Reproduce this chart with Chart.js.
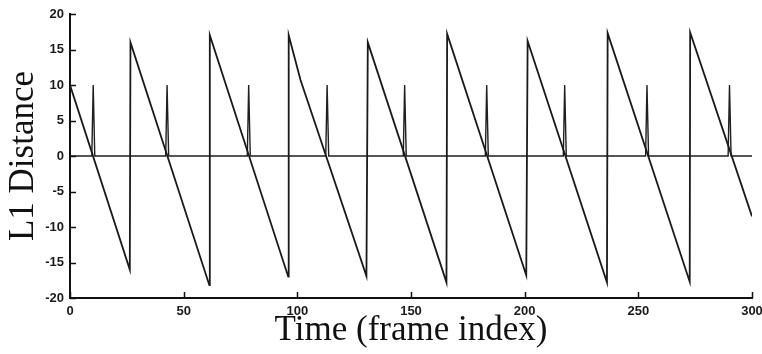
<!DOCTYPE html>
<html>
<head>
<meta charset="utf-8">
<script src="https://cdn.jsdelivr.net/npm/chart.js@4.4.0/dist/chart.umd.min.js"></script>
<style>
  html, body { margin: 0; padding: 0; background: #fff; }
</style>
</head>
<body>
<canvas id="chart" width="762" height="354"></canvas>
<script>
// sawtooth L1 distance (vertices)
const sawX = [0, 26.3, 26.6, 61.3, 61.5, 96.0, 96.2, 101.4, 130.4, 131.0, 165.6, 165.9, 200.7, 201.3, 236.2, 236.5, 272.6, 272.8, 300];
const sawY = [10, -16, 16, -18.2, 17, -17, 17, 10.7, -16.9, 16, -17.8, 17.2, -16.8, 16.2, -17.8, 17.3, -17.7, 17.4, -8.5];

// zero line with spikes at the zero crossings
const baseX = [0,
  9.6, 10.2, 10.9,
  42.1, 42.7, 43.4,
  78.0, 78.6, 79.3,
  112.5, 113.1, 113.8,
  146.6, 147.2, 147.9,
  182.7, 183.3, 184.0,
  217.0, 217.6, 218.3,
  253.2, 253.8, 254.5,
  289.5, 290.1, 290.8,
  300];
const baseY = [0,
  0, 10, 0,
  0, 10, 0,
  0, 10, 0,
  0, 10, 0,
  0, 10, 0,
  0, 10, 0,
  0, 10, 0,
  0, 10, 0,
  0, 10, 0,
  0];

const xTicks = [0, 50, 100, 150, 200, 250, 300];
const yTicks = [-20, -15, -10, -5, 0, 5, 10, 15, 20];

const toPoints = (xs, ys) => xs.map((x, i) => ({x: x, y: ys[i]}));

// tick marks drawn inward from the axes
const innerTicks = {
    id: "innerTicks",
    afterDraw(chart) {
        const {ctx, chartArea, scales} = chart;
        ctx.save();
        ctx.strokeStyle = "#111";
        ctx.lineWidth = 1.5;
        ctx.beginPath();
        xTicks.forEach(v => {
            const px = Math.round(scales.x.getPixelForValue(v)) + 0.5;
            ctx.moveTo(px, chartArea.bottom);
            ctx.lineTo(px, chartArea.bottom - 6);
        });
        yTicks.forEach(v => {
            const py = Math.round(scales.y.getPixelForValue(v)) + 0.5;
            ctx.moveTo(chartArea.left, py);
            ctx.lineTo(chartArea.left + 6, py);
        });
        ctx.stroke();
        ctx.restore();
    }
};

const tickFont = {family: "'Liberation Sans', Arial, sans-serif", size: 13, weight: "bold"};
const titleFont = {family: "'Liberation Serif', 'Times New Roman', serif", size: 35};

const chart = new Chart(document.getElementById("chart"), {
    type: "line",
    data: {
        datasets: [
            {
                label: "L1 distance",
                data: toPoints(sawX, sawY),
                borderColor: "#1a1a1a",
                borderWidth: 1.8,
                pointRadius: 0,
                tension: 0
            }, {
                label: "zero",
                data: toPoints(baseX, baseY),
                borderColor: "#1f1f1f",
                borderWidth: 1.4,
                pointRadius: 0,
                tension: 0
            }
        ]
    },
    options: {
        responsive: false,
        animation: false,
        devicePixelRatio: 1,
        layout: {padding: {left: 0, top: 14, right: 10, bottom: 0}},
        plugins: {
            legend: {display: false},
            tooltip: {enabled: false}
        },
        scales: {
            x: {
                type: "linear",
                min: 0,
                max: 300,
                afterBuildTicks: (s) => { s.ticks = xTicks.map(v => ({value: v})); },
                afterFit: (s) => { s.height = 56; s.paddingLeft = 0; s.paddingRight = 0; },
                ticks: {font: tickFont, color: "#1a1a1a", padding: 6, maxRotation: 0, autoSkip: false},
                grid: {display: false, drawTicks: false},
                border: {display: true, color: "#111", width: 2},
                title: {display: true, text: "Time (frame index)", font: titleFont, color: "#111", padding: {top: 0, bottom: 2}}
            },
            y: {
                type: "linear",
                min: -20,
                max: 20,
                afterBuildTicks: (s) => { s.ticks = yTicks.map(v => ({value: v})); },
                afterFit: (s) => { s.width = 70; },
                ticks: {font: tickFont, color: "#1a1a1a", padding: 6, autoSkip: false},
                grid: {display: false, drawTicks: false},
                border: {display: true, color: "#111", width: 2},
                title: {display: true, text: "L1 Distance", font: titleFont, color: "#111", padding: {top: 3, bottom: 0}}
            }
        }
    },
    plugins: [innerTicks]
});
</script>
</body>
</html>
